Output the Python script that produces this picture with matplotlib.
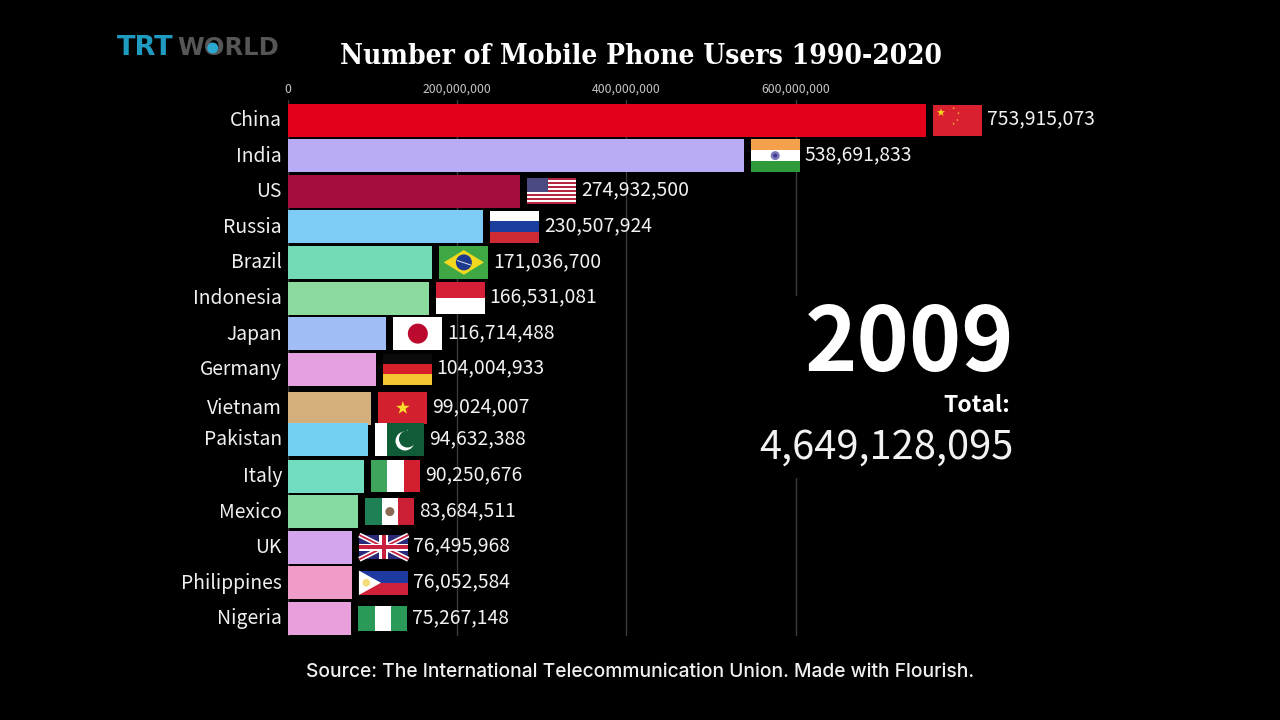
import numpy as np
import matplotlib
matplotlib.use("Agg")
import matplotlib.pyplot as plt
from matplotlib.patches import Rectangle, Polygon, Ellipse
from matplotlib.ticker import FuncFormatter
from matplotlib.transforms import ScaledTranslation

countries = ["China", "India", "US", "Russia", "Brazil", "Indonesia", "Japan", "Germany",
             "Vietnam", "Pakistan", "Italy", "Mexico", "UK", "Philippines", "Nigeria"]
users = [753915073, 538691833, 274932500, 230507924, 171036700, 166531081, 116714488, 104004933,
         99024007, 94632388, 90250676, 83684511, 76495968, 76052584, 75267148]
# rank while the animation is moving, Vietnam and Pakistan are mid swap
ranks = [0, 1, 2, 3, 4, 5, 6, 7, 8.09, 8.97, 10, 11, 12, 13, 14]
bar_colors = ["#e3001b", "#b9abf6", "#a50d3e", "#7ecbf8", "#73dcb6", "#8cdb9e", "#a0bdf6", "#e5a0e0",
              "#d5ae7e", "#74d0f2", "#72dcc0", "#86dba2", "#d3a5ec", "#f09cc8", "#e8a0dc"]
flag_heights = [31, 32.5, 26, 32.5, 32.5, 32.5, 32.5, 31, 32.5, 32.5, 32.5, 27.7, 24.4, 24.4, 24.4]
x_ticks = [0, 200000000, 400000000, 600000000]
year = "2009"
total = "4,649,128,095"

plt.rcParams['font.family'] = ['Noto Sans CJK SC', 'DejaVu Sans']

W, H = 1280, 720
X0 = 287.5
PX_PER_VALUE = 638.5 / 753915073
ROW0 = 120
ROW = 35.6
TOP, BOTTOM = 100, 636

fig = plt.figure(figsize=(12.8, 7.2), dpi=100, facecolor="black")
ax = fig.add_axes([X0 / W, 1 - BOTTOM / H, (W - X0) / W, (BOTTOM - TOP) / H], facecolor="black")
ax.set_xlim(0, (W - X0) / PX_PER_VALUE)
ax.set_ylim((BOTTOM - ROW0) / ROW, (TOP - ROW0) / ROW)

for s in ax.spines.values():
    s.set_visible(False)
ax.set_axisbelow(True)
ax.grid(axis='x', color="#3a3a3a", linewidth=1)
ax.xaxis.tick_top()
ax.set_xticks(x_ticks)
ax.xaxis.set_major_formatter(FuncFormatter(lambda v, p: f"{int(v):,}"))
ax.tick_params(axis='x', length=0, pad=3, labelsize=8.8, labelcolor="#c4c4c4")
ax.set_yticks(ranks)
ax.set_yticklabels(countries)
ax.tick_params(axis='y', length=0, pad=4, labelsize=13.9, labelcolor="#f0f0f0")
# country names sit a little above the bar middle
for lbl in ax.get_yticklabels():
    lbl.set_transform(lbl.get_transform() + ScaledTranslation(0, 2 / 100, fig.dpi_scale_trans))

ax.barh(ranks, users, height=33 / ROW, color=bar_colors, zorder=2)


def star(cx, cy, r, color, to_xy):
    a = np.deg2rad(np.arange(10) * 36 - 90)
    rr = np.where(np.arange(10) % 2 == 0, r, r * 0.4)
    pts = [to_xy(cx + q * np.cos(t), cy + q * np.sin(t)) for q, t in zip(rr, a)]
    ax.add_patch(Polygon(pts, color=color, lw=0, zorder=4))


def draw_flag(name, left_px, row, h):
    w = 49
    top = -h / 2

    def xy(px, py):
        # px, py measured in pixels from the flag's left edge and its vertical middle
        return (left_px + px) / PX_PER_VALUE, row + py / ROW

    def rect(u0, v0, u1, v1, color, z=3):
        (x0, y0), (x1, y1) = xy(u0 * w, top + v0 * h), xy(u1 * w, top + v1 * h)
        ax.add_patch(Rectangle((x0, y0), x1 - x0, y1 - y0, color=color, lw=0, zorder=z))

    def poly(pts, color, z=4):
        ax.add_patch(Polygon([xy(u * w, top + v * h) for u, v in pts], color=color, lw=0, zorder=z))

    def disc(u, v, r, color, z=4):
        c = xy(u * w, top + v * h)
        ax.add_patch(Ellipse(c, 2 * r / PX_PER_VALUE, 2 * r / ROW, color=color, lw=0, zorder=z))

    def strip(a, b, t, color, z=4):
        # a line between two points of the flag, t wide in pixels
        p0 = np.array([a[0] * w, top + a[1] * h])
        p1 = np.array([b[0] * w, top + b[1] * h])
        d = p1 - p0
        n = np.array([-d[1], d[0]]) / np.hypot(*d) * t / 2
        pts = [p0 + n, p1 + n, p1 - n, p0 - n]
        ax.add_patch(Polygon([xy(*p) for p in pts], color=color, lw=0, zorder=z))

    if name == "China":
        rect(0, 0, 1, 1, "#d8202f")
        star(8, top + 8, 4.2, "#f7d51d", xy)
        for u, v in [(.42, .12), (.52, .28), (.5, .5), (.42, .62)]:
            disc(u, v, 0.9, "#e8a030")
    elif name == "India":
        rect(0, 0, 1, 1 / 3, "#f5a04a")
        rect(0, 1 / 3, 1, 2 / 3, "#ffffff")
        rect(0, 2 / 3, 1, 1, "#2f9a3a")
        disc(.5, .5, 4.5, "#7a78b8")
        disc(.5, .5, 2, "#3c3c90")
    elif name == "US":
        rect(0, 0, 1, 1, "#ffffff")
        for i in range(0, 13, 2):
            rect(0, i / 13, 1, (i + 1) / 13, "#b5263f")
        rect(0, 0, .42, 7 / 13, "#4a4a80", z=4)
    elif name == "Russia":
        rect(0, 0, 1, 1 / 3, "#ffffff")
        rect(0, 1 / 3, 1, 2 / 3, "#1c3f9e")
        rect(0, 2 / 3, 1, 1, "#cf2b35")
    elif name == "Brazil":
        rect(0, 0, 1, 1, "#3fa845")
        poly([(.09, .5), (.5, .12), (.91, .5), (.5, .88)], "#f2d91f")
        disc(.5, .5, 8, "#1d3a8f", z=5)
        strip((.36, .44), (.64, .58), 1, "#e0e4f0", z=6)
    elif name == "Indonesia":
        rect(0, 0, 1, .5, "#d41f36")
        rect(0, .5, 1, 1, "#ffffff")
    elif name == "Japan":
        rect(0, 0, 1, 1, "#ffffff")
        disc(.5, .5, 10, "#bc0a2f")
    elif name == "Germany":
        rect(0, 0, 1, 1 / 3, "#0a0a0a")
        rect(0, 1 / 3, 1, 2 / 3, "#d8202a")
        rect(0, 2 / 3, 1, 1, "#f5c630")
    elif name == "Vietnam":
        rect(0, 0, 1, 1, "#d3202f")
        star(24.5, 0, 7, "#fbdc28", xy)
    elif name == "Pakistan":
        rect(0, 0, .25, 1, "#ffffff")
        rect(.25, 0, 1, 1, "#105c36")
        disc(.62, .55, 9.5, "#ffffff", z=4)
        disc(.67, .49, 8.5, "#105c36", z=5)
        star(33, -7, 3, "#ffffff", xy)
    elif name == "Italy":
        rect(0, 0, 1 / 3, 1, "#3fa45c")
        rect(1 / 3, 0, 2 / 3, 1, "#ffffff")
        rect(2 / 3, 0, 1, 1, "#d3202f")
    elif name == "Mexico":
        rect(0, 0, 1 / 3, 1, "#1f8055")
        rect(1 / 3, 0, 2 / 3, 1, "#ffffff")
        rect(2 / 3, 0, 1, 1, "#ca1f35")
        disc(.5, .5, 4.5, "#8a6a55")
    elif name == "UK":
        rect(0, 0, 1, 1, "#2a2a78")
        strip((0, 0), (1, 1), 5, "#ffffff")
        strip((0, 1), (1, 0), 5, "#ffffff")
        strip((0, 0), (1, 1), 1.8, "#c8203f", z=5)
        strip((0, 1), (1, 0), 1.8, "#c8203f", z=5)
        rect(.41, 0, .59, 1, "#ffffff", z=6)
        rect(0, .35, 1, .65, "#ffffff", z=6)
        rect(.46, 0, .54, 1, "#c8203f", z=7)
        rect(0, .41, 1, .59, "#c8203f", z=7)
    elif name == "Philippines":
        rect(0, 0, 1, .5, "#1d3aa0")
        rect(0, .5, 1, 1, "#d1203a")
        poly([(0, 0), (.45, .5), (0, 1)], "#ffffff")
        disc(.15, .5, 3.8, "#f5dc7a", z=5)
    elif name == "Nigeria":
        rect(0, 0, 1 / 3, 1, "#2a9a58")
        rect(1 / 3, 0, 2 / 3, 1, "#ffffff")
        rect(2 / 3, 0, 1, 1, "#2a9a58")


for name, v, r, fh in zip(countries, users, ranks, flag_heights):
    end_px = v * PX_PER_VALUE
    draw_flag(name, end_px + 7, r, fh)
    ax.text((end_px + 7 + 49 + 5) / PX_PER_VALUE, r - 1 / ROW, f"{v:,}", color="#f2f2f2",
            fontsize=13.9, va='center', ha='left', zorder=5)

# black block behind the year and total, the gridline stops there
fig.add_artist(Rectangle((755 / W, 1 - 478 / H), 262 / W, 182 / H, transform=fig.transFigure,
                         facecolor="black", edgecolor="none", zorder=5))
fig.text(1014 / W, 1 - 345 / H, year, color="white", fontsize=64, fontweight='heavy',
         ha='right', va='center', zorder=6)
fig.text(1010 / W, 1 - 405 / H, "Total:", color="white", fontsize=16.5, fontweight='bold',
         ha='right', va='center', zorder=6)
fig.text(1014 / W, 1 - 448 / H, total, color="#f2f2f2", fontsize=28.7, ha='right', va='center',
         zorder=6)

fig.text(640.5 / W, 1 - 56.5 / H, "Number of Mobile Phone Users 1990-2020", color="white",
         family="DejaVu Serif", stretch='condensed', fontweight='bold', fontsize=20.2,
         ha='center', va='center')
fig.text(640 / W, 1 - 672 / H, "Source: The International Telecommunication Union. Made with Flourish.",
         color="#f0f0f0", family="Inter", fontweight='medium', fontsize=13.85, ha='center', va='center')

# logo
fig.text(117 / W, 1 - 48 / H, "TRT", color="#1f9bc2", family="DejaVu Sans", fontweight='bold',
         fontsize=19.5, ha='left', va='center')
fig.text(177 / W, 1 - 48 / H, "WORLD", color="#565656", family="DejaVu Sans", fontweight='bold',
         fontsize=17.5, ha='left', va='center')
fig.add_artist(Ellipse((212.7 / W, 1 - 48 / H), 11 / W, 11 / H, transform=fig.transFigure,
                       facecolor="#2aa8d0", edgecolor="none", zorder=6))

fig.savefig("out.png", dpi=100, facecolor="black")
